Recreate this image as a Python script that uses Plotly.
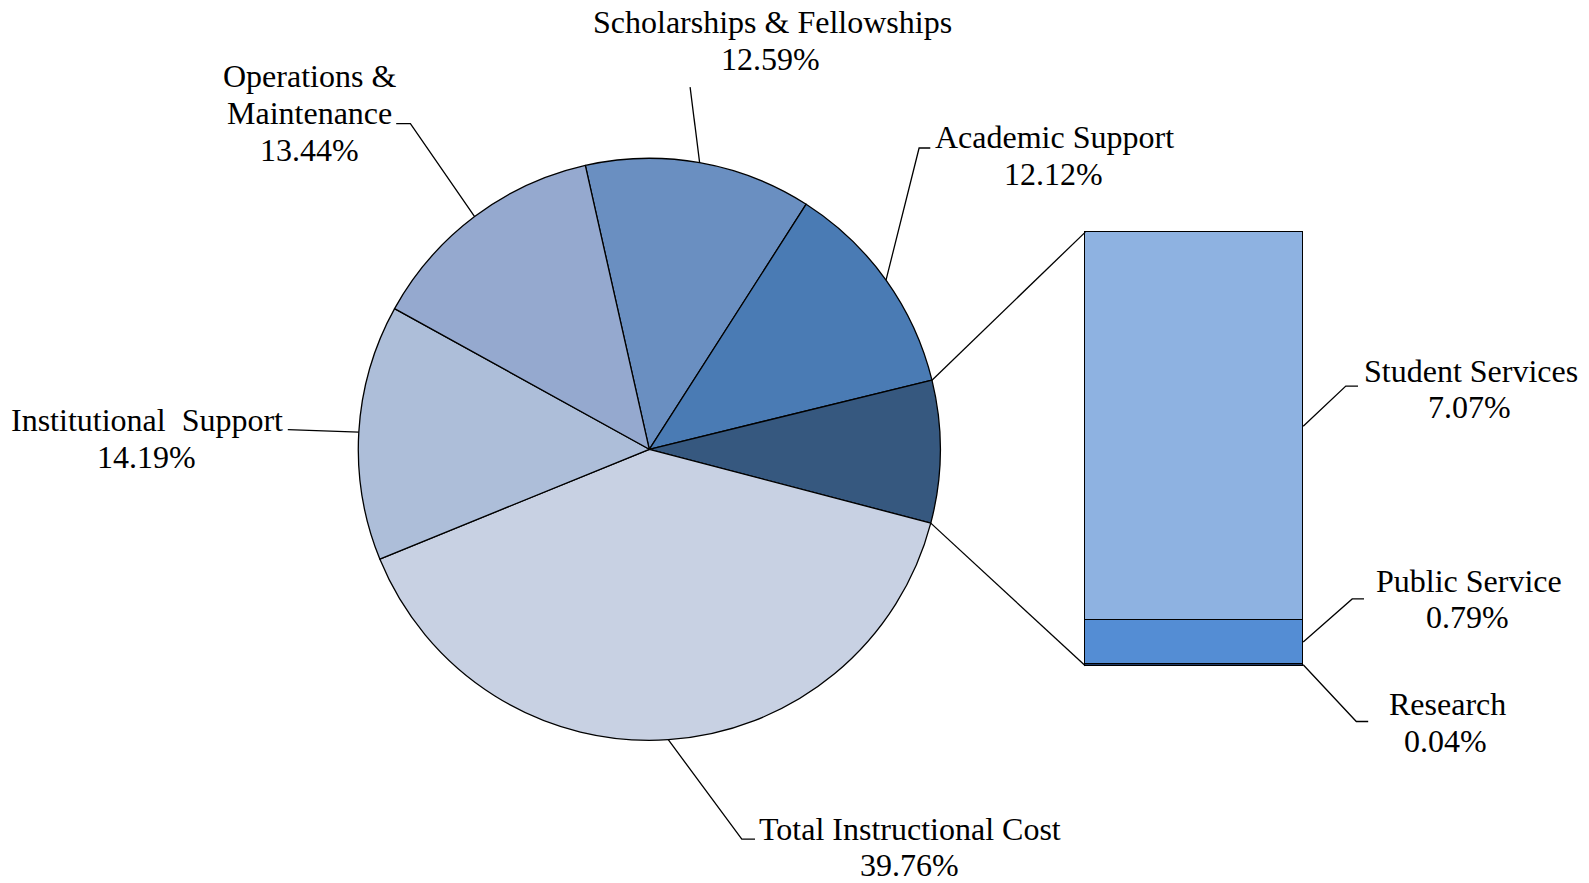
import math
import plotly.graph_objects as go

# pie slices (clockwise, starting at Scholarships)
pie_labels = ["Scholarships & Fellowships", "Academic Support", "Other",
              "Total Instructional Cost", "Institutional  Support", "Operations & Maintenance"]
pie_values = [12.59, 12.12, 7.90, 39.76, 14.19, 13.44]
pie_colors = ["#6A8FC1", "#4A7BB4", "#36587F", "#C8D1E3", "#ADBED9", "#95A9CF"]

# the "Other" slice broken out into a stacked bar (bottom to top)
bar_labels = ["Research", "Public Service", "Student Services"]
bar_values = [0.04, 0.79, 7.07]
bar_colors = ["#1F3864", "#548DD4", "#8EB2E1"]

W, H = 1589, 883
FONT = "Liberation Serif, Times New Roman, serif"
FS = 32

# geometry (pixels)
cx, cy, R = 649.3, 449.3, 291.0
rotation = -12.7
bx0, bx1, by_top, by_bot = 1085.3, 1303.2, 232.1, 665.8
pad = 5  # room around the bar so its outline is not clipped

fig = go.Figure()

fig.add_trace(go.Pie(
    labels=pie_labels, values=pie_values, sort=False, direction="clockwise",
    rotation=rotation, textinfo="none", hoverinfo="skip", showlegend=False,
    marker=dict(colors=pie_colors, line=dict(color="black", width=1.3)),
    domain=dict(x=[(cx - R) / W, (cx + R) / W], y=[(H - cy - R) / H, (H - cy + R) / H]),
))

for lab, val, col in zip(bar_labels, bar_values, bar_colors):
    fig.add_trace(go.Bar(
        x=[0], y=[val], width=1, name=lab,
        marker=dict(color=col, line=dict(color="black", width=1.6)),
        cliponaxis=False, hoverinfo="skip", showlegend=False, xaxis="x", yaxis="y",
    ))

total_other = sum(bar_values)
bw = bx1 - bx0
upx = (by_bot - by_top) / total_other


def pie_point(angle_deg):
    a = math.radians(angle_deg)
    return cx + R * math.sin(a), cy - R * math.cos(a)


# slice angles
edges = [rotation]
for v in pie_values:
    edges.append(edges[-1] + v / sum(pie_values) * 360)
mids = [(edges[i] + edges[i + 1]) / 2 for i in range(len(pie_values))]


def bar_y(v):
    return by_bot - upx * v


lines = []
# connector lines from the "Other" slice to the bar
oi = pie_labels.index("Other")
lines.append([pie_point(edges[oi]), (bx0, by_top)])
lines.append([pie_point(edges[oi + 1]), (bx0, by_bot)])

# pie leader lines: elbow and end points
pie_leaders = {
    "Scholarships & Fellowships": [(690.1, 87.2)],
    "Operations & Maintenance": [(410.4, 123.6), (396.2, 123.6)],
    "Academic Support": [(919.1, 148.0), (930.3, 148.0)],
    "Institutional  Support": [(297.9, 429.7), (287.8, 429.7)],
    "Total Instructional Cost": [(741.8, 839.1), (755.0, 839.1)],
}
for lab, pts in pie_leaders.items():
    i = pie_labels.index(lab)
    lines.append([pie_point(mids[i])] + pts)

bar_leaders = {
    "Student Services": [(1345.8, 386.1), (1358.0, 386.1)],
    "Public Service": [(1352.2, 598.9), (1364.0, 598.9)],
    "Research": [(1356.3, 721.5), (1368.2, 721.5)],
}
cum = 0
for lab, val in zip(bar_labels, bar_values):
    mid = cum + val / 2
    cum += val
    lines.append([(bx1, bar_y(mid))] + bar_leaders[lab])

for pts in lines:
    fig.add_trace(go.Scatter(
        x=[p[0] for p in pts], y=[p[1] for p in pts], mode="lines",
        line=dict(color="black", width=1.3), hoverinfo="skip", showlegend=False,
        cliponaxis=False, xaxis="x2", yaxis="y2",
    ))

# label text: lines and their centre positions
label_lines = [
    ("Scholarships & Fellowships", 772.2, 22.3), ("12.59%", 770.2, 58.8),
    ("Operations &", 309.1, 76.0), ("Maintenance", 309.1, 112.5), ("13.44%", 309.1, 150.0),
    ("Academic Support", 1054.9, 136.8), ("12.12%", 1053.9, 174.3),
    ("Institutional\u00a0 Support", 146.9, 419.5), ("14.19%", 146.9, 457.0),
    ("Total Instructional Cost", 910.0, 829.0), ("39.76%", 909.0, 865.0),
    ("Student Services", 1471.4, 370.9), ("7.07%", 1469.4, 407.4),
    ("Public Service", 1469.4, 580.7), ("0.79%", 1467.4, 617.2),
    ("Research", 1447.1, 704.3), ("0.04%", 1445.1, 740.8),
]
annotations = [
    dict(text=t, x=x, y=y, xref="x2", yref="y2", showarrow=False,
         xanchor="center", yanchor="middle", font=dict(family=FONT, size=FS, color="black"))
    for t, x, y in label_lines
]

fig.update_layout(
    width=W, height=H, margin=dict(l=0, r=0, t=0, b=0),
    paper_bgcolor="white", plot_bgcolor="rgba(0,0,0,0)",
    barmode="stack", bargap=0,
    xaxis=dict(domain=[(bx0 - pad) / W, (bx1 + pad) / W],
               range=[-0.5 - pad / bw, 0.5 + pad / bw], visible=False, fixedrange=True),
    yaxis=dict(domain=[(H - by_bot - pad) / H, (H - by_top + pad) / H],
               range=[-pad / upx, total_other + pad / upx], visible=False, fixedrange=True),
    xaxis2=dict(domain=[0, 1], range=[0, W], visible=False, anchor="y2", fixedrange=True),
    yaxis2=dict(domain=[0, 1], range=[H, 0], visible=False, anchor="x2", fixedrange=True),
    annotations=annotations,
    font=dict(family=FONT),
)

fig.write_html("out.html", config={"displayModeBar": False},
               post_script="document.body.style.margin='0';document.body.style.overflow='hidden';")
